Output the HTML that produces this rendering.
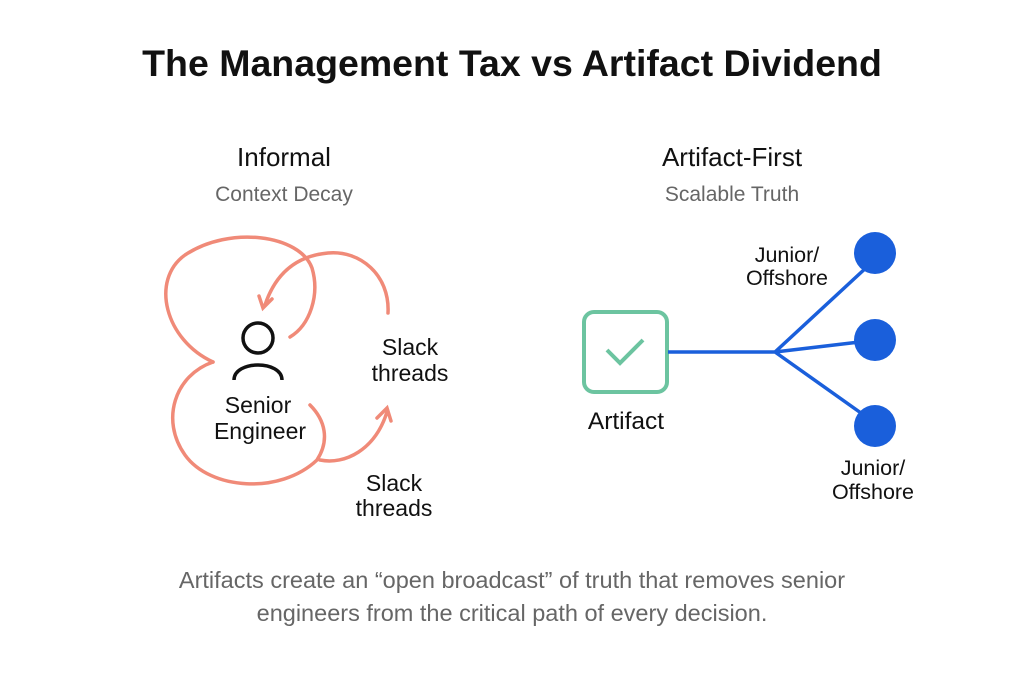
<!DOCTYPE html>
<html><head><style>
body{margin:0;width:1024px;height:683px;background:#fff;overflow:hidden;font-family:"Liberation Sans",sans-serif}
</style></head><body>
<svg width="1024" height="683" viewBox="0 0 1024 683" xmlns="http://www.w3.org/2000/svg" font-family="Liberation Sans, sans-serif">
<text x="512" y="76" text-anchor="middle" font-size="37.5" font-weight="bold" fill="#111">The Management Tax vs Artifact Dividend</text>
<text x="284" y="166" text-anchor="middle" font-size="26" fill="#111">Informal</text>
<text x="284" y="201" text-anchor="middle" font-size="21" fill="#666">Context Decay</text>
<text x="732" y="166" text-anchor="middle" font-size="26" fill="#111">Artifact-First</text>
<text x="732" y="201" text-anchor="middle" font-size="21" fill="#666">Scalable Truth</text>
<g fill="none" stroke="#f08a78" stroke-width="3.5" stroke-linecap="round">
<path d="M213 362 C165 340,150 280,185 255 C230 225,300 235,312 268 C320 295,310 325,290 337"/>
<path d="M388 313 C390 275,360 250,328 253 C295 256,275 275,265 305"/>
<path d="M259 296 L263 308 L272 299"/>
<path d="M213 362 C175 375,160 420,185 455 C210 490,280 495,317 460 C330 440,325 420,310 405"/>
<path d="M320 460 C345 465,375 450,387 412"/>
<path d="M377 418 L387 408 L391 421"/>
</g>
<g fill="none" stroke="#111" stroke-width="3.5">
<circle cx="258" cy="338" r="15"/>
<path d="M234 380 C234 360,282 360,282 380"/>
</g>
<text x="258" y="413" text-anchor="middle" font-size="23" fill="#111">Senior</text>
<text x="260" y="439" text-anchor="middle" font-size="23" fill="#111">Engineer</text>
<text x="410" y="355" text-anchor="middle" font-size="23" fill="#111">Slack</text>
<text x="410" y="381" text-anchor="middle" font-size="23" fill="#111">threads</text>
<text x="394" y="491" text-anchor="middle" font-size="23" fill="#111">Slack</text>
<text x="394" y="516" text-anchor="middle" font-size="23" fill="#111">threads</text>
<rect x="584" y="312" width="83" height="80" rx="10" fill="none" stroke="#6cc4a0" stroke-width="4"/>
<path d="M607 350 L620 363 L643 340" fill="none" stroke="#6cc4a0" stroke-width="4"/>
<text x="626" y="429" text-anchor="middle" font-size="24.5" fill="#111">Artifact</text>
<g stroke="#1a5fdb" stroke-width="3.5" fill="none">
<path d="M668 352 L775 352 L868 266 M775 352 L868 341 M775 352 L868 418"/>
</g>
<g fill="#1a5fdb">
<circle cx="875" cy="253" r="21"/><circle cx="875" cy="340" r="21"/><circle cx="875" cy="426" r="21"/>
</g>
<text x="787" y="262" text-anchor="middle" font-size="21.5" fill="#111">Junior/</text>
<text x="787" y="285" text-anchor="middle" font-size="21.5" fill="#111">Offshore</text>
<text x="873" y="475" text-anchor="middle" font-size="21.5" fill="#111">Junior/</text>
<text x="873" y="499" text-anchor="middle" font-size="21.5" fill="#111">Offshore</text>
<text x="512" y="588" text-anchor="middle" font-size="23.5" fill="#666">Artifacts create an “open broadcast” of truth that removes senior</text>
<text x="512" y="621" text-anchor="middle" font-size="23.5" fill="#666">engineers from the critical path of every decision.</text>
</svg>
</body></html>
